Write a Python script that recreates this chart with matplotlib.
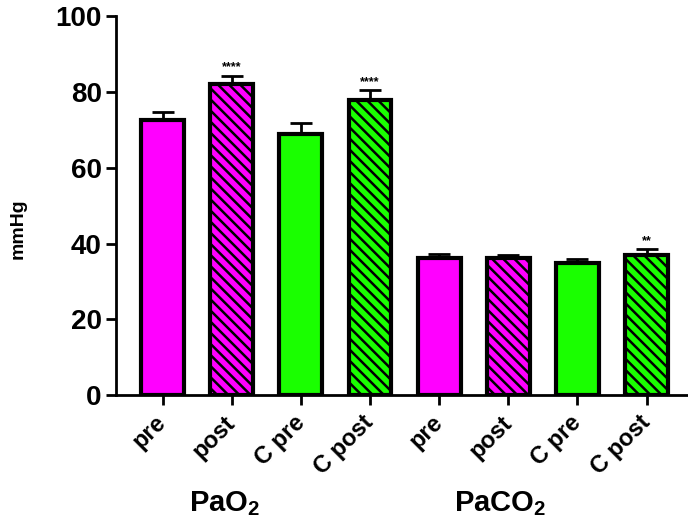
import numpy as np
import matplotlib
matplotlib.use('Agg')
import matplotlib.pyplot as plt
import matplotlib.transforms as mtransforms

plt.rcParams['font.family'] = ['Liberation Sans', 'DejaVu Sans']
plt.rcParams['font.weight'] = 'bold'
plt.rcParams['mathtext.fontset'] = 'custom'
plt.rcParams['mathtext.bf'] = 'Liberation Sans:bold'
plt.rcParams['mathtext.rm'] = 'Liberation Sans:bold'
plt.rcParams['hatch.linewidth'] = 1.8

labels = ['pre', 'post', 'C pre', 'C post', 'pre', 'post', 'C pre', 'C post']
means = [72.5, 82.0, 69.0, 78.0, 36.2, 36.2, 34.8, 37.0]
errs = [2.3, 2.3, 2.7, 2.4, 1.0, 0.9, 1.0, 1.5]
stars = ['', '****', '', '****', '', '', '', '**']
groups = ['$\\mathbf{PaO_2}$', '$\\mathbf{PaCO_2}$']

magenta = '#ff00ff'
green = '#1aff00'
colors = [magenta, magenta, green, green] * 2
hatches = ['', '\\\\\\', '', '\\\\\\'] * 2

fig = plt.figure(figsize=(6.88, 5.24), dpi=100)
ax = fig.add_axes([0.169, 0.246, 0.829, 0.723])

x = np.arange(len(means))
for i in x:
    ax.bar(i, means[i], width=0.62, color=colors[i], edgecolor='black',
           linewidth=3, hatch=hatches[i], zorder=2)
    ax.errorbar(i, means[i], yerr=[[0], [errs[i]]], color='black',
                elinewidth=2, capsize=8, capthick=2, zorder=1)
    if stars[i]:
        ax.text(i, means[i] + errs[i] + 0.6, stars[i], ha='center',
                va='bottom', fontsize=9)

ax.set_xlim(-0.67, 7.58)
ax.set_ylim(0, 100)
ax.set_yticks(np.arange(0, 101, 20))
ax.set_xticks(x)
ax.set_xticklabels([])

# rotated category labels, placed by hand under the ticks
trans = mtransforms.blended_transform_factory(ax.transData, ax.transAxes)
trans = trans + mtransforms.ScaledTranslation(-0.08, -0.16, fig.dpi_scale_trans)
for i, lab in enumerate(labels):
    ax.text(i, 0, lab, transform=trans, rotation=45, ha='right', va='top',
            rotation_mode='anchor', fontsize=17, fontweight='bold')

ax.tick_params(axis='y', labelsize=20, width=2, length=7)
ax.tick_params(axis='x', width=2, length=7)
for s in ['top', 'right']:
    ax.spines[s].set_visible(False)
for s in ['left', 'bottom']:
    ax.spines[s].set_linewidth(2)
ax.set_ylabel('mmHg', fontsize=14, fontweight='bold')
ax.yaxis.set_label_coords(-0.158, 0.438)

fig.text(0.326, 0.025, groups[0], ha='center', va='baseline', fontsize=21)
fig.text(0.727, 0.025, groups[1], ha='center', va='baseline', fontsize=21)

fig.savefig('out.png', dpi=100)
